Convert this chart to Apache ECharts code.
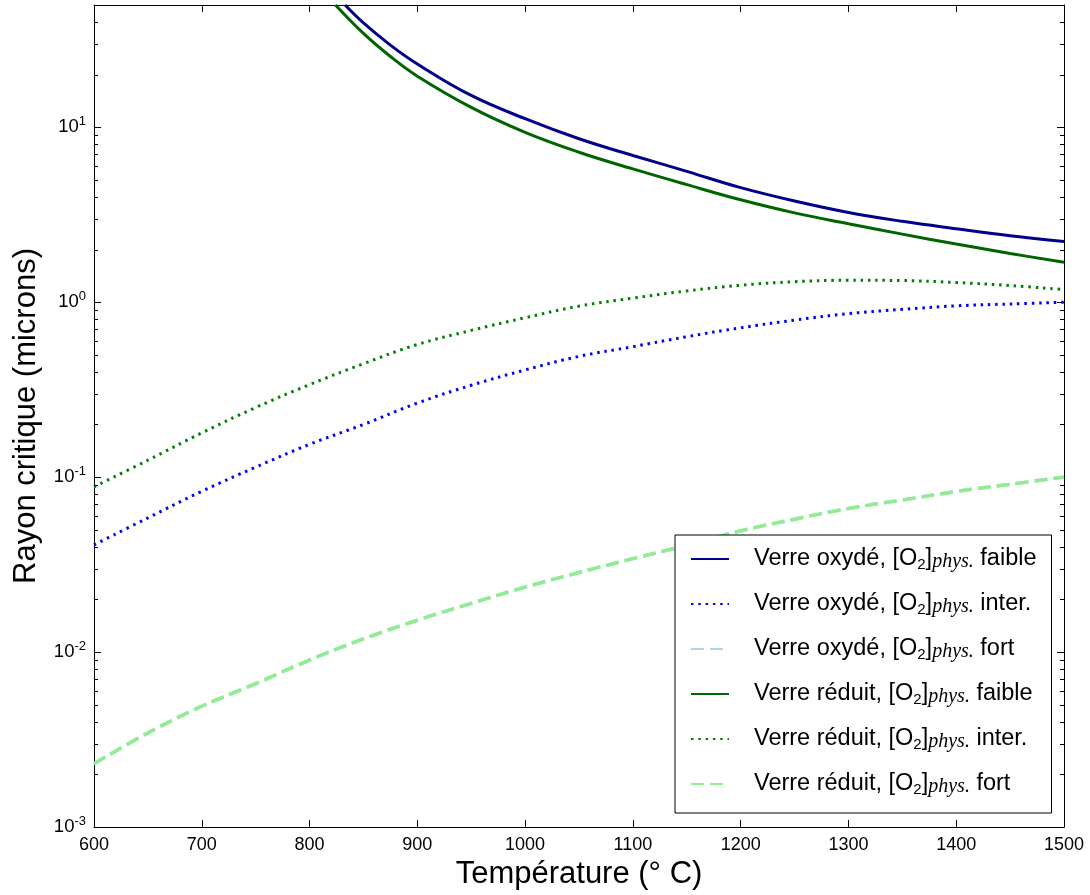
<!DOCTYPE html>
<html><head><meta charset="utf-8">
<script src="https://cdn.jsdelivr.net/npm/echarts@6/dist/echarts.min.js"></script>
<style>html,body{margin:0;padding:0;background:#fff}#c{width:1090px;height:895px}</style>
</head><body><div id="c"></div>
<script>
// ---- data ----
const xRange = [600, 1500];
const yRange = [0.001, 50];
const temps = [600, 650, 700, 750, 800, 850, 900, 950, 1000, 1050, 1100, 1150, 1200, 1250, 1300, 1350, 1400, 1450, 1500];
const tempsOxFaible = [833, 850, 875, 900, 950, 1000, 1050, 1100, 1150, 1200, 1250, 1300, 1350, 1400, 1450, 1500];
const tempsRedFaible = [824, 850, 875, 900, 950, 1000, 1050, 1100, 1150, 1200, 1250, 1300, 1350, 1400, 1450, 1500];
const oxFaible = [50, 39.5, 29.5, 23, 15.2, 11.2, 8.6, 6.9, 5.6, 4.52, 3.79, 3.26, 2.9, 2.63, 2.4, 2.22];
const redFaible = [50, 34.4, 25.4, 19.6, 13, 9.36, 7.2, 5.78, 4.7, 3.85, 3.24, 2.81, 2.45, 2.15, 1.9, 1.69];
const oxInter = [0.041, 0.0585, 0.083, 0.114, 0.154, 0.2, 0.265, 0.335, 0.41, 0.49, 0.557, 0.635, 0.714, 0.79, 0.86, 0.91, 0.953, 0.977, 1.0];
const redInter = [0.088, 0.125, 0.179, 0.25, 0.338, 0.445, 0.573, 0.69, 0.815, 0.95, 1.055, 1.16, 1.25, 1.31, 1.335, 1.33, 1.295, 1.245, 1.18];
const oxFort = [0.0023, 0.00345, 0.0049, 0.0066, 0.009, 0.0119, 0.0152, 0.019, 0.0235, 0.0285, 0.0342, 0.0408, 0.0493, 0.0575, 0.0662, 0.074, 0.0828, 0.091, 0.1];
const redFort = [0.0023, 0.00345, 0.0049, 0.0066, 0.009, 0.0119, 0.0152, 0.019, 0.0235, 0.0285, 0.0342, 0.0408, 0.0493, 0.0575, 0.0662, 0.074, 0.0828, 0.091, 0.1];
const minorTickValues = [0.002,0.003,0.004,0.005,0.006,0.007,0.008,0.009,
  0.02,0.03,0.04,0.05,0.06,0.07,0.08,0.09,
  0.2,0.3,0.4,0.5,0.6,0.7,0.8,0.9,
  2,3,4,5,6,7,8,9,20,30,40];
const glassNames = ['Verre oxydé', 'Verre réduit'];
const levelNames = ['faible', 'inter.', 'fort'];
const xTitle = 'Température (° C)';
const yTitle = 'Rayon critique (microns)';
// ----------------------------------------

const FONT = '"Liberation Sans", Arial, Helvetica, sans-serif';
const SEP = ', [O2]phys. ';
const nm = (g, l) => glassNames[g] + SEP + levelNames[l];
const pair = (xs, ys) => xs.map((x, i) => [x, ys[i]]);

const solid = (color) => ({ color, width: 3, type: 'solid' });
const dotted = (color) => ({ color, width: 3, type: [2.5, 4.8], cap: 'butt' });
const dashed = (color) => ({ color, width: 3.5, type: [13, 6], cap: 'butt' });

function mk(name, data, ls) {
  return { name, type: 'line', data, showSymbol: false, symbol: 'none', smooth: 0.4,
    lineStyle: ls, itemStyle: { color: ls.color }, clip: true, z: 3, emphasis: { disabled: true } };
}

const seriesDefs = [
  mk(nm(0,0), pair(tempsOxFaible, oxFaible), solid('#00008B')),
  mk(nm(0,1), pair(temps, oxInter), dotted('#0000FF')),
  mk(nm(0,2), pair(temps, oxFort), dashed('#ADD8E6')),
  mk(nm(1,0), pair(tempsRedFaible, redFaible), solid('#006400')),
  mk(nm(1,1), pair(temps, redInter), dotted('#008000')),
  mk(nm(1,2), pair(temps, redFort), dashed('#90EE90')),
];

function expLabel(v) {
  const e = Math.log10(v);
  const r = Math.round(e);
  if (Math.abs(e - r) > 1e-6) return '';
  return '{b|10}{s|' + r + '}';
}

const axisLine = { show: true, onZero: false, lineStyle: { color: '#000', width: 1 } };

const option = {
  animation: false,
  backgroundColor: '#fff',
  grid: { left: 94, right: 26, top: 5, bottom: 68, containLabel: false, outerBoundsMode: 'none' },
  xAxis: [
    { type: 'value', min: xRange[0], max: xRange[1], interval: 100, position: 'bottom',
      axisLine, splitLine: { show: false },
      axisTick: { inside: true, length: 7, lineStyle: { color: '#000' } },
      axisLabel: { fontSize: 18, color: '#000', fontFamily: FONT, margin: 9, formatter: v => String(v) },
      name: xTitle, nameLocation: 'middle', nameGap: 32,
      nameTextStyle: { fontSize: 31, color: '#000', fontFamily: FONT } },
    { type: 'value', min: xRange[0], max: xRange[1], interval: 100, position: 'top',
      axisLine, splitLine: { show: false },
      axisTick: { inside: true, length: 7, lineStyle: { color: '#000' } },
      axisLabel: { show: false } }
  ],
  yAxis: [
    { type: 'log', logBase: 10, min: yRange[0], max: yRange[1], position: 'left',
      axisLine, splitLine: { show: false },
      axisTick: { inside: true, length: 7, lineStyle: { color: '#000' } },
      axisLabel: { formatter: expLabel, margin: 8, color: '#000',
        rich: { b: { fontSize: 18.5, lineHeight: 24, fontFamily: FONT, color: '#000' },
                s: { fontSize: 13, lineHeight: 13, verticalAlign: 'top', fontFamily: FONT, color: '#000' } } },
      name: yTitle, nameLocation: 'middle', nameGap: 52,
      nameTextStyle: { fontSize: 31, color: '#000', fontFamily: FONT } },
    { type: 'log', logBase: 10, min: yRange[0], max: yRange[1], position: 'right',
      axisLine, splitLine: { show: false },
      axisTick: { inside: true, length: 7, lineStyle: { color: '#000' } },
      axisLabel: { show: false } }
  ],
  legend: {
    orient: 'vertical', left: 675, top: 535,
    data: seriesDefs.map(s => s.name),
    itemWidth: 38, itemHeight: 14, itemGap: 20,
    padding: [12, 15, 16, 15],
    backgroundColor: '#fff', borderColor: '#000', borderWidth: 1, borderRadius: 0,
    selectedMode: false,
    itemStyle: { opacity: 0 },
    formatter: (name) => {
      const parts = name.split(SEP);
      return '{n|' + parts[0] + ', [O}{s|2}{n|]}{i|phys.}{n| ' + parts[1] + '}';
    },
    textStyle: {
      padding: [0, 0, 0, 20],
      rich: {
        n: { fontSize: 23.5, lineHeight: 26, fontFamily: FONT, color: '#000' },
        s: { fontSize: 15, lineHeight: 15, verticalAlign: 'bottom', fontFamily: FONT, color: '#000' },
        i: { fontSize: 20, lineHeight: 16, verticalAlign: 'bottom', fontStyle: 'italic',
             fontFamily: '"Liberation Serif", "DejaVu Serif", serif', color: '#000' }
      }
    }
  },
  series: [
    ...seriesDefs,
    { type: 'custom', name: 'minorTicks', xAxisIndex: 0, yAxisIndex: 0, silent: true, clip: false, z: 4,
      data: minorTickValues.map(v => [xRange[0], v]),
      renderItem: (params, api) => {
        const v = api.value(1);
        const L = api.coord([xRange[0], v]);
        const R = api.coord([xRange[1], v]);
        const y = Math.round(L[1]) + 0.5;
        return { type: 'group', children: [
          { type: 'line', shape: { x1: L[0], y1: y, x2: L[0] + 4, y2: y }, style: { stroke: '#000', lineWidth: 1 } },
          { type: 'line', shape: { x1: R[0] - 4, y1: y, x2: R[0], y2: y }, style: { stroke: '#000', lineWidth: 1 } }
        ] };
      } }
  ]
};

const chart = echarts.init(document.getElementById('c'), null, { renderer: 'canvas' });
chart.setOption(option);
</script>
</body></html>
